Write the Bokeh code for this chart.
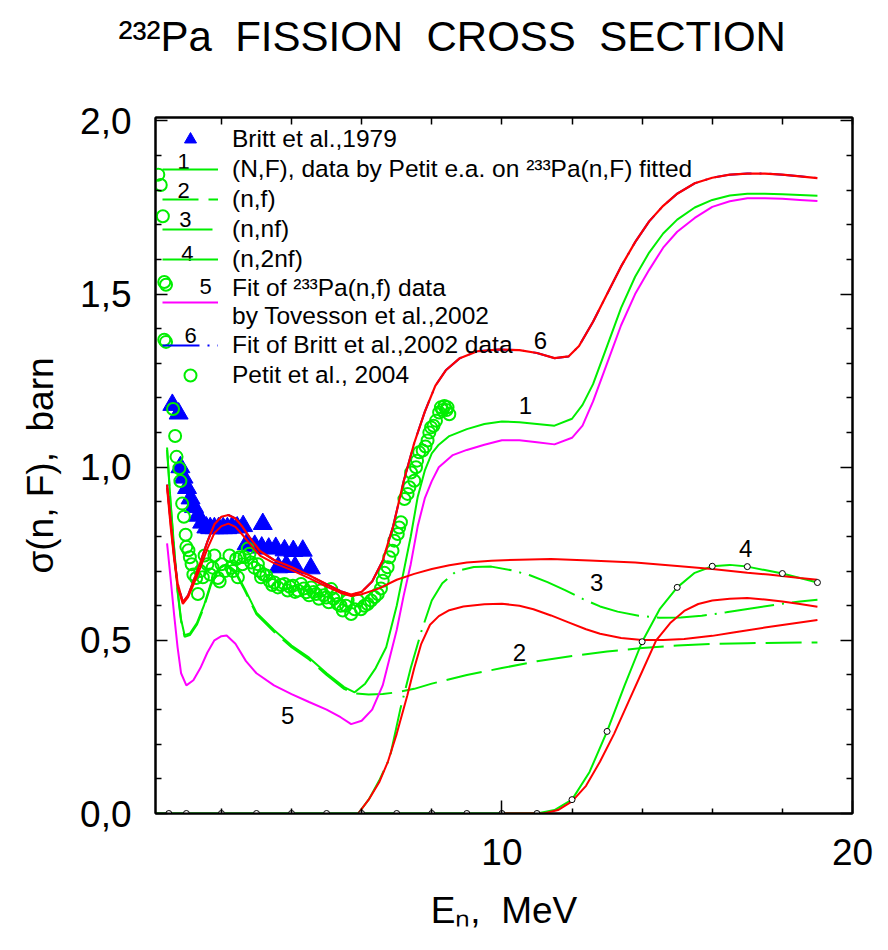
from bokeh.plotting import figure
from bokeh.models import (Range1d, LinearAxis, FixedTicker, Title,
                          CustomJSTickFormatter, Legend, LegendItem, Label)
from bokeh.embed import file_html
from bokeh.resources import INLINE

# ---------------- data ----------------
# Britt et al., 1979 (blue triangles)
britt_E = [0.6, 0.78, 0.83, 0.92, 1.02, 1.12, 1.22, 1.33, 1.45, 1.57, 1.68, 1.8, 1.92, 2.05, 2.17,
           2.3, 2.45, 2.62, 3.18, 2.72, 2.95, 3.15, 3.35, 3.55, 3.8, 4.05, 4.32, 3.62, 3.85, 4.1, 4.55]
britt_s = [1.18, 1.155, 1.0, 0.97, 0.94, 0.91, 0.885, 0.86, 0.84, 0.826, 0.824, 0.824, 0.824, 0.824, 0.824,
           0.826, 0.826, 0.83, 0.836, 0.778, 0.773, 0.768, 0.765, 0.767, 0.76, 0.758, 0.759, 0.711, 0.716, 0.712, 0.708]

# Petit et al., 2004 (green open circles)
petit_E = [0.2, 0.27, 0.33, 0.37, 0.42, 0.37, 0.42, 0.62, 0.68, 0.72, 0.8, 0.83, 0.88, 0.93, 0.98, 1.0, 1.06,
           1.1, 1.15, 1.2, 1.28, 1.33, 1.4, 1.47, 1.52, 1.6, 1.68, 1.75, 1.8, 1.9, 1.95, 2.0, 2.1, 2.23, 2.28,
           2.33, 2.42, 2.47, 2.52, 2.6, 2.66, 2.75, 2.8, 2.85, 2.94, 3.04, 3.09, 3.13, 3.2, 3.28, 3.37, 3.45,
           3.51, 3.61, 3.7, 3.8, 3.89, 3.95, 4.04, 4.1, 4.18, 4.27, 4.35, 4.42, 4.5, 4.56, 4.63, 4.7, 4.78,
           4.84, 4.92, 4.99, 5.06, 5.13, 5.2, 5.27, 5.32, 5.4, 5.46, 5.55, 5.6, 5.7, 5.8, 5.89, 5.98, 6.08,
           6.17, 6.27, 6.37, 6.46, 6.55, 6.6, 6.65, 6.74, 6.79, 6.88, 6.93, 7.03, 7.07, 7.12, 7.22, 7.31,
           7.36, 7.41, 7.5, 7.55, 7.58, 7.64, 7.74, 7.82, 7.88, 7.93, 7.98, 8.05, 8.12, 8.21, 8.26, 8.31,
           8.36, 8.42, 8.45, 8.5]
petit_s = [1.845, 1.815, 1.725, 1.535, 1.527, 1.368, 1.362, 1.168, 1.09, 1.03, 0.997, 0.96, 0.895, 0.857,
           0.805, 0.77, 0.76, 0.74, 0.72, 0.69, 0.68, 0.634, 0.7, 0.682, 0.745, 0.72, 0.69, 0.71, 0.745, 0.68,
           0.67, 0.72, 0.70, 0.745, 0.71, 0.70, 0.735, 0.682, 0.74, 0.72, 0.74, 0.765, 0.75, 0.725, 0.71,
           0.72, 0.70, 0.682, 0.69, 0.687, 0.672, 0.66, 0.667, 0.653, 0.66, 0.663, 0.644, 0.655, 0.658,
           0.64, 0.644, 0.663, 0.65, 0.639, 0.63, 0.653, 0.64, 0.634, 0.62, 0.644, 0.63, 0.624, 0.61, 0.648,
           0.62, 0.629, 0.605, 0.60, 0.586, 0.60, 0.615, 0.576, 0.59, 0.615, 0.59, 0.6, 0.605, 0.615, 0.625,
           0.634, 0.65, 0.672, 0.695, 0.711, 0.74, 0.759, 0.788, 0.807, 0.826, 0.841, 0.908, 0.923, 0.942,
           0.985, 0.961, 1.0, 1.019, 1.043, 1.048, 1.06, 1.077, 1.1, 1.115, 1.12, 1.134, 1.158, 1.173,
           1.165, 1.177, 1.165, 1.173, 1.153]

# curve 1: (N,F) total, green solid
tot_E = [0.45, 0.55, 0.65, 0.75, 0.85, 0.95, 1.1, 1.3, 1.5, 1.7, 1.9, 2.15, 2.4, 2.66, 3.0, 3.5, 4.0, 4.5,
         5.0, 5.5, 5.8, 6.1, 6.4, 6.7, 7.0, 7.2, 7.4, 7.6, 7.8, 8.0, 8.2, 8.5, 9.0, 9.5, 10.0, 10.5, 11.0,
         11.5, 12.0, 12.3, 12.6, 13.0, 13.4, 13.8, 14.2, 14.6, 15.0, 15.5, 16.0, 16.5, 17.0, 17.5, 18.0,
         18.5, 19.0]
tot_s = [1.057, 0.90, 0.77, 0.645, 0.56, 0.515, 0.52, 0.55, 0.60, 0.665, 0.705, 0.72, 0.70, 0.65, 0.58,
         0.53, 0.485, 0.45, 0.405, 0.365, 0.35, 0.375, 0.42, 0.48, 0.60, 0.70, 0.80, 0.915, 0.99, 1.04,
         1.065, 1.09, 1.11, 1.125, 1.132, 1.13, 1.125, 1.12, 1.14, 1.18, 1.24, 1.35, 1.46, 1.55, 1.62,
         1.675, 1.715, 1.75, 1.772, 1.785, 1.79, 1.79, 1.788, 1.786, 1.784]

# curve 2: (n,f), green dashed
nf_E = [0.45, 0.55, 0.65, 0.75, 0.85, 0.95, 1.1, 1.3, 1.5, 1.7, 1.9, 2.15, 2.4, 2.66, 3.0, 3.5, 4.0, 4.5,
        5.0, 5.5, 5.8, 6.2, 6.6, 7.0, 7.5, 8.0, 9.0, 10.0, 11.0, 12.0, 13.0, 14.0, 15.0, 16.0, 17.0, 18.0, 19.0]
nf_s = [1.05, 0.895, 0.765, 0.64, 0.555, 0.51, 0.515, 0.545, 0.595, 0.66, 0.70, 0.715, 0.695, 0.645, 0.575,
        0.525, 0.48, 0.445, 0.40, 0.36, 0.347, 0.344, 0.345, 0.35, 0.36, 0.375, 0.40, 0.42, 0.44, 0.455,
        0.468, 0.478, 0.485, 0.49, 0.492, 0.493, 0.494]

# curve 3: (n,nf), green dash-dot
nnf_E = [5.9, 6.2, 6.5, 6.8, 7.1, 7.4, 7.7, 8.0, 8.3, 8.7, 9.2, 9.7, 10.3, 10.8, 11.3, 11.8, 12.3, 12.8,
         13.3, 13.9, 14.5, 15.1, 15.7, 16.4, 17.1, 17.8, 18.5, 19.0]
nnf_s = [0.0, 0.04, 0.095, 0.16, 0.30, 0.42, 0.525, 0.615, 0.665, 0.70, 0.712, 0.713, 0.702, 0.688, 0.668,
         0.645, 0.62, 0.598, 0.583, 0.571, 0.565, 0.566, 0.571, 0.581, 0.592, 0.603, 0.612, 0.617]

# curve 4: (n,2nf), green solid with small open markers
n2nf_E = [0.15, 11.0, 11.5, 12.0, 12.5, 13.0, 13.5, 14.0, 14.5, 15.0, 15.5, 16.0, 16.5, 17.0, 17.5, 18.0, 18.5, 19.0]
n2nf_s = [0.0, 0.0, 0.01, 0.04, 0.12, 0.237, 0.37, 0.496, 0.59, 0.653, 0.695, 0.714, 0.718, 0.713, 0.703,
          0.693, 0.68, 0.667]
n2nf_pt_E = [0.5, 1, 2, 3, 4, 5, 6, 7, 8, 9, 10, 11, 12, 13, 14, 15, 16, 17, 18, 19]
n2nf_pt_s = [0, 0, 0, 0, 0, 0, 0, 0, 0, 0, 0, 0, 0.04, 0.237, 0.496, 0.653, 0.714, 0.713, 0.693, 0.667]

# curve 5: fit of 233Pa(n,f) by Tovesson et al. (magenta)
tov_E = [0.45, 0.55, 0.65, 0.75, 0.85, 1.0, 1.2, 1.4, 1.6, 1.8, 2.0, 2.15, 2.4, 2.7, 3.0, 3.5, 4.0, 4.5,
         5.0, 5.4, 5.7, 6.0, 6.3, 6.6, 6.8, 7.0, 7.2, 7.4, 7.6, 7.8, 8.0, 8.2, 8.6, 9.0, 9.5, 10.0, 10.5,
         11.0, 11.5, 12.0, 12.3, 12.6, 13.0, 13.4, 13.8, 14.2, 14.6, 15.0, 15.5, 16.0, 16.5, 17.0, 17.5,
         18.0, 18.5, 19.0]
tov_s = [0.78, 0.68, 0.575, 0.48, 0.405, 0.37, 0.385, 0.42, 0.465, 0.50, 0.512, 0.514, 0.49, 0.44, 0.405,
         0.37, 0.345, 0.322, 0.3, 0.278, 0.258, 0.268, 0.3, 0.37, 0.45, 0.53, 0.63, 0.72, 0.83, 0.91, 0.96,
         1.0, 1.035, 1.05, 1.065, 1.078, 1.078, 1.072, 1.066, 1.085, 1.12, 1.19, 1.30, 1.41, 1.50, 1.57,
         1.634, 1.68, 1.72, 1.752, 1.768, 1.777, 1.777, 1.775, 1.772, 1.769]

# curve 6: fit of Britt data (red) - total and components
r_tot_E = [0.45, 0.55, 0.65, 0.75, 0.9, 1.05, 1.2, 1.4, 1.6, 1.8, 2.0, 2.2, 2.4, 2.6, 2.8, 3.1, 3.5, 4.0,
           4.5, 5.0, 5.4, 5.7, 6.0, 6.3, 6.6, 6.9, 7.2, 7.5, 7.8, 8.1, 8.4, 8.8, 9.3, 9.9, 10.5, 11.0, 11.5,
           11.9, 12.2, 12.6, 13.0, 13.4, 13.8, 14.2, 14.6, 15.0, 15.5, 16.0, 16.5, 17.0, 17.5, 18.0, 18.5, 19.0]
r_tot_s = [0.95, 0.845, 0.745, 0.665, 0.61, 0.63, 0.67, 0.725, 0.785, 0.835, 0.857, 0.862, 0.852, 0.828,
           0.798, 0.758, 0.732, 0.712, 0.688, 0.662, 0.642, 0.632, 0.64, 0.67, 0.73, 0.83, 0.96, 1.07, 1.16,
           1.235, 1.28, 1.315, 1.335, 1.34, 1.338, 1.33, 1.315, 1.32, 1.35, 1.42, 1.5, 1.58, 1.65, 1.71,
           1.755, 1.79, 1.82, 1.836, 1.845, 1.848, 1.848, 1.845, 1.84, 1.835]
r_nf_E = [0.45, 0.55, 0.65, 0.75, 0.9, 1.05, 1.2, 1.4, 1.6, 1.8, 2.0, 2.2, 2.4, 2.6, 2.8, 3.1, 3.5, 4.0,
          4.5, 5.0, 5.4, 5.7, 6.0, 6.5, 7.0, 7.5, 8.0, 8.5, 9.0, 9.7, 10.5, 11.4, 12.5, 13.8, 15.0, 16.0,
          17.0, 17.6, 18.5, 19.0]
r_nf_s = [0.94, 0.83, 0.735, 0.655, 0.605, 0.625, 0.66, 0.71, 0.765, 0.81, 0.83, 0.837, 0.828, 0.805,
          0.78, 0.745, 0.723, 0.703, 0.68, 0.655, 0.637, 0.628, 0.633, 0.65, 0.675, 0.692, 0.706, 0.717,
          0.725, 0.73, 0.733, 0.735, 0.731, 0.725, 0.715, 0.706, 0.695, 0.69, 0.68, 0.675]
r_nnf_E = [5.9, 6.2, 6.5, 6.75, 7.0, 7.3, 7.5, 7.7, 7.95, 8.2, 8.5, 8.9, 9.5, 10.0, 10.5, 10.9, 11.4, 11.9,
           12.4, 12.8, 13.4, 14.0, 14.6, 15.2, 16.0, 16.6, 17.5, 18.3, 19.0]
r_nnf_s = [0.0, 0.04, 0.09, 0.15, 0.23, 0.34, 0.42, 0.49, 0.545, 0.57, 0.587, 0.598, 0.604, 0.606, 0.6,
           0.59, 0.572, 0.552, 0.532, 0.519, 0.507, 0.501, 0.501, 0.504, 0.513, 0.523, 0.537, 0.549, 0.559]
r_n2nf_E = [10.0, 11.2, 11.6, 12.0, 12.4, 12.8, 13.2, 13.6, 14.0, 14.4, 14.8, 15.2, 15.6, 16.0, 16.5, 17.0,
            17.5, 18.0, 18.5, 19.0]
r_n2nf_s = [0.0, 0.0, 0.01, 0.035, 0.08, 0.15, 0.23, 0.32, 0.41, 0.50, 0.55, 0.585, 0.605, 0.615, 0.62,
            0.622, 0.618, 0.612, 0.605, 0.597]

# tick values
x_major = [10, 20]
x_minor = [2, 4, 6, 8, 12, 14, 16, 18]
y_major = [0.0, 0.5, 1.0, 1.5, 2.0]
y_minor = [0.1, 0.2, 0.3, 0.4, 0.6, 0.7, 0.8, 0.9, 1.1, 1.2, 1.3, 1.4, 1.6, 1.7, 1.8, 1.9]

# texts (non-breaking space keeps the double spacing of the original)
title_text = "\u00b2\u00b3\u00b2Pa\u00a0 FISSION\u00a0 CROSS\u00a0 SECTION"
x_label = "E\u2099,\u00a0 MeV"
y_label = "\u03c3(n, F),\u00a0 barn"
legend_texts = ["Britt et al.,1979",
                "(N,F), data by Petit e.a. on \u00b2\u00b3\u00b3Pa(n,F) fitted",
                "(n,f)", "(n,nf)", "(n,2nf)",
                "Fit of \u00b2\u00b3\u00b3Pa(n,f) data\nby Tovesson et al.,2002",
                "Fit of Britt et al.,2002 data",
                "Petit et al., 2004"]
curve_numbers = ["1", "2", "3", "4", "5", "6"]

# ---------------- figure ----------------
FONT = "Liberation Sans"
GREEN = "#00ee00"
RED = "#ff0000"
MAG = "#ff00ff"
BLUE = "#0000ff"

p = figure(width=880, height=942, output_backend="svg", toolbar_location=None,
           x_range=Range1d(0.12, 20), y_range=Range1d(0, 2.01),
           x_axis_type=None, y_axis_type=None,
           min_border_left=155, min_border_right=28, min_border_top=117, min_border_bottom=129)
p.outline_line_color = "black"
p.outline_line_width = 2
p.background_fill_color = "white"
p.border_fill_color = "white"


def style_axis(ax, tick_in, minor_in):
    ax.axis_line_width = 2
    ax.axis_line_color = "black"
    ax.major_tick_in = tick_in
    ax.major_tick_out = 0
    ax.minor_tick_in = minor_in
    ax.minor_tick_out = 0
    ax.major_tick_line_width = 1.5
    ax.minor_tick_line_width = 1.5
    ax.major_tick_line_color = "black"
    ax.minor_tick_line_color = "black"
    ax.major_label_text_font = FONT
    ax.major_label_text_font_size = "37px"
    ax.major_label_text_color = "black"
    ax.axis_label_text_font = FONT
    ax.axis_label_text_font_size = "37px"
    ax.axis_label_text_font_style = "normal"
    ax.axis_label_text_color = "black"
    return ax


blank = CustomJSTickFormatter(code="return '';")

bottom = style_axis(LinearAxis(ticker=FixedTicker(ticks=x_major, minor_ticks=x_minor),
                               formatter=CustomJSTickFormatter(code="return tick.toFixed(0);")), 13, 5)
bottom.major_label_standoff = 25
bottom.axis_label = x_label
bottom.axis_label_standoff = 22
left = style_axis(LinearAxis(ticker=FixedTicker(ticks=y_major, minor_ticks=y_minor),
                             formatter=CustomJSTickFormatter(code="return tick.toFixed(1).replace('.', ',');")), 12, 6)
left.major_label_standoff = 24
left.axis_label = y_label
left.axis_label_standoff = 16
top = style_axis(LinearAxis(ticker=FixedTicker(ticks=x_major, minor_ticks=x_minor), formatter=blank), 7, 7)
right = style_axis(LinearAxis(ticker=FixedTicker(ticks=y_major, minor_ticks=y_minor), formatter=blank), 12, 6)
for a in (top, right):
    a.major_label_text_font_size = "1px"
    a.major_label_standoff = 0
p.add_layout(bottom, "below")
p.add_layout(left, "left")
p.add_layout(top, "above")
p.add_layout(right, "right")

# blank spacer panel between the frame and the title, then the title itself
p.add_layout(Title(text="\u00a0", standoff=40, text_font=FONT, text_font_size="10px"), "above")
p.add_layout(Title(text=title_text, align="left", offset=-37, standoff=10,
                   text_font=FONT, text_font_size="42px", text_font_style="normal",
                   text_color="black"), "above")

# ---------------- data glyphs ----------------
r_britt = p.scatter(britt_E, britt_s, marker="triangle", size=19, fill_color=BLUE, line_color=BLUE)
r_petit = p.scatter(petit_E, petit_s, marker="circle", size=12, fill_color=None,
                    line_color=GREEN, line_width=2)

r_tot = p.line(tot_E, tot_s, line_color=GREEN, line_width=2)
r_nf = p.line(nf_E, nf_s, line_color=GREEN, line_width=2, line_dash="36 10")
r_nnf = p.line(nnf_E, nnf_s, line_color=GREEN, line_width=2, line_dash="50 8 2 8")
r_n2nf = p.line(n2nf_E, n2nf_s, line_color=GREEN, line_width=2)
r_tov = p.line(tov_E, tov_s, line_color=MAG, line_width=2)

# blue dash-dot fit of Britt data, lying under the red total curve
r_bfit = p.line(r_tot_E, r_tot_s, line_color=BLUE, line_width=2, line_dash="37 8 2 8")

p.line(r_nf_E, r_nf_s, line_color=RED, line_width=2)
p.line(r_nnf_E, r_nnf_s, line_color=RED, line_width=2)
p.line(r_n2nf_E, r_n2nf_s, line_color=RED, line_width=2)
p.line(r_tot_E, r_tot_s, line_color=RED, line_width=2.2)

p.scatter(n2nf_pt_E, n2nf_pt_s, marker="circle", size=6, fill_color="white",
          line_color="black", line_width=1)

legend = Legend(items=[
    LegendItem(label=legend_texts[0], renderers=[r_britt]),
    LegendItem(label=legend_texts[1], renderers=[r_tot]),
    LegendItem(label=legend_texts[2], renderers=[r_nf]),
    LegendItem(label=legend_texts[3], renderers=[r_nnf]),
    LegendItem(label=legend_texts[4], renderers=[r_n2nf]),
    LegendItem(label=legend_texts[5], renderers=[r_tov]),
    LegendItem(label=legend_texts[6], renderers=[r_bfit]),
    LegendItem(label=legend_texts[7], renderers=[r_petit]),
], location="top_left", margin=7, padding=0, spacing=0,
    label_text_font=FONT, label_text_font_size="24.5px", label_text_color="black",
    glyph_width=56, glyph_height=30, label_height=30, label_standoff=14,
    background_fill_alpha=0, border_line_alpha=0)
p.add_layout(legend)

# ---------------- number annotations ----------------
def lab(x, y, text, size):
    p.add_layout(Label(x=x, y=y, text=text, text_font=FONT, text_font_size=size,
                       text_color="black", text_align="center", text_baseline="middle"))

# numbers in the key
lab(0.92, 1.883, curve_numbers[0], "22px")
lab(0.92, 1.799, curve_numbers[1], "22px")
lab(0.975, 1.715, curve_numbers[2], "22px")
lab(1.03, 1.617, curve_numbers[3], "22px")
lab(1.55, 1.522, curve_numbers[4], "22px")
lab(1.12, 1.380, curve_numbers[5], "22px")

# numbers on the curves
lab(10.67, 1.178, curve_numbers[0], "24px")
lab(10.5, 0.465, curve_numbers[1], "24px")
lab(12.7, 0.667, curve_numbers[2], "24px")
lab(16.95, 0.765, curve_numbers[3], "24px")
lab(3.89, 0.283, curve_numbers[4], "24px")
lab(11.1, 1.366, curve_numbers[5], "24px")

open("out.html", "w").write(file_html(p, INLINE))
